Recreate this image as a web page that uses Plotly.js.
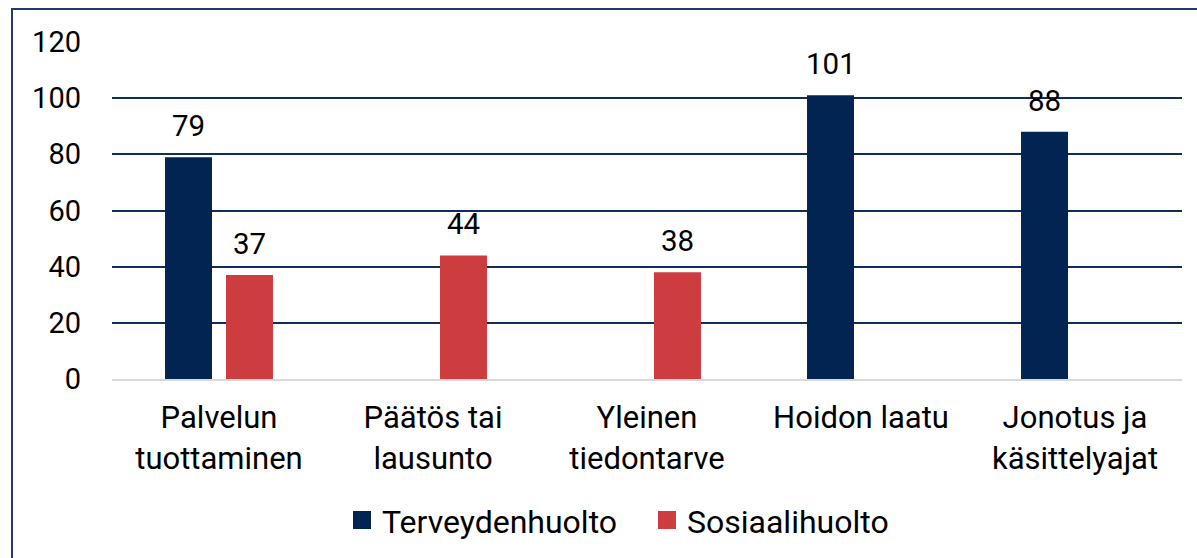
<!DOCTYPE html>
<html><head><meta charset="utf-8">
<script src="https://cdn.plot.ly/plotly-3.0.1.min.js"></script>
<style>
html,body{margin:0;padding:0;background:#fff;}
#wrap{position:relative;width:1197px;height:558px;overflow:hidden;}
#chart{position:absolute;left:0;top:0;width:1197px;height:558px;}
#frame{position:absolute;left:11px;top:8px;width:1200px;height:570px;border:2px solid #1f3b68;pointer-events:none;box-sizing:border-box;}
</style></head>
<body><div id="wrap"><div id="chart"></div><div id="frame"></div></div>
<script>
const categories = ["Palvelun<br>tuottaminen","Päätös tai<br>lausunto","Yleinen<br>tiedontarve","Hoidon laatu","Jonotus ja<br>käsittelyajat"];
const terveydenhuolto = [79, null, null, 101, 88];
const sosiaalihuolto = [37, 44, 38, null, null];
const seriesNames = ["Terveydenhuolto","Sosiaalihuolto"];
const seriesColors = ["#022452","#cd3d40"];
const yTicks = [0,20,40,60,80,100,120];

const F = "Roboto";
const tickFontY = {family:F, size:29, color:"#000"};
const tickFontX = {family:F, size:31, color:"#000"};
const labelFont = {family:F, size:29.5, color:"#000"};
const legendFont = {family:F, size:32, color:"#000"};

const seriesData = [terveydenhuolto, sosiaalihuolto];
const traces = seriesData.map((vals, i) => ({
  type:"bar", name:seriesNames[i], x:categories, y:vals, marker:{color:seriesColors[i]},
  hoverinfo:"none", showlegend:false
}));
// legend entries with larger square swatches
seriesNames.forEach((name, i) => {
  traces.push({type:"scatter", mode:"markers", name:name, x:[null], y:[null],
    marker:{symbol:"square", size:16, color:seriesColors[i], line:{width:2, color:seriesColors[i]}},
    showlegend:true, hoverinfo:"none"});
});

const annotations = [];
seriesData.forEach((vals, i) => {
  vals.forEach((v, j) => {
    if (v === null) return;
    annotations.push({x:categories[j], y:v, xref:"x", yref:"y", text:String(v), showarrow:false,
      xanchor:"center", yanchor:"bottom", xshift:(i === 0 ? -30.5 : 30.5), yshift:12, font:labelFont});
  });
});

const layout = {
  width:1197, height:558,
  margin:{l:112, r:15, t:42, b:178},
  paper_bgcolor:"#fff", plot_bgcolor:"#fff",
  font:labelFont,
  barmode:"group", bargap:0.43, bargroupgap:0.23,
  xaxis:{type:"category", tickfont:tickFontX, showgrid:false, zeroline:false, showline:true, linecolor:"#d9d9d9", linewidth:2, ticks:"", ticklabelstandoff:10},
  yaxis:{range:[0,120], tickvals:yTicks, tickfont:tickFontY, showgrid:true, gridcolor:"#0d2d5e", gridwidth:2,
         zeroline:false, showline:false, ticks:"", ticklabelstandoff:30},
  legend:{orientation:"h", x:0.5, xanchor:"center", y:-0.415, yanchor:"middle", font:legendFont,
          itemwidth:30, itemsizing:"trace", entrywidth:260},
  annotations:annotations,
  showlegend:true
};
Plotly.newPlot("chart", traces, layout, {displayModeBar:false, staticPlot:true});
</script></body></html>
